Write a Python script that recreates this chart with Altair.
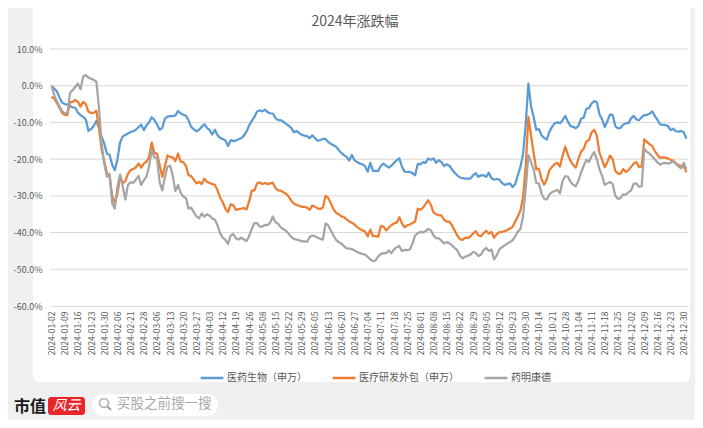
import altair as alt
import pandas as pd
from datetime import date, timedelta

# ---- trading calendar (A-share 2024) ----
HOLIDAYS = ["2024-01-01", "2024-02-09", "2024-02-12", "2024-02-13", "2024-02-14",
            "2024-02-15", "2024-02-16", "2024-04-04", "2024-04-05", "2024-05-01",
            "2024-05-02", "2024-05-03", "2024-06-10", "2024-09-16", "2024-09-17",
            "2024-10-01", "2024-10-02", "2024-10-03", "2024-10-04", "2024-10-07"]

dates = []
d = date(2024, 1, 1)
while d.year == 2024:
    s = d.isoformat()
    if d.weekday() < 5 and s not in HOLIDAYS:
        dates.append(s)
    d += timedelta(days=1)

SERIES = ["医药生物（申万）", "医疗研发外包（申万）", "药明康德"]
COLORS = ["#5B9BD5", "#ED7D31", "#A5A5A5"]

# cumulative change in %
BLUE = [
    0.0, -0.8, -1.5, -3.2, -4.6, -5.0, -5.1, -5.5, -5.9, -6.0,
    -7.3, -8.0, -8.5, -9.2, -12.3, -11.8, -11.0, -9.6, -11.5, -13.9,
    -15.8, -18.5, -18.8, -21.5, -23.0, -20.0, -15.5, -13.8, -13.4, -13.0,
    -12.6, -12.4, -12.0, -11.3, -10.6, -12.1, -10.8, -10.0, -8.6, -9.3,
    -10.5, -12.0, -11.5, -9.0, -8.4, -8.3, -8.3, -8.1, -6.9, -7.5,
    -7.9, -8.2, -9.4, -11.2, -11.9, -12.4, -12.0, -11.2, -10.5, -11.5,
    -12.1, -13.3, -12.0, -13.5, -14.2, -14.5, -14.9, -16.4, -14.8, -15.1,
    -14.9, -14.6, -14.3, -13.6, -12.5, -10.8, -9.6, -8.5, -7.0, -6.7,
    -7.0, -6.5, -7.2, -7.5, -7.6, -8.8, -9.4, -9.4, -9.8, -10.4,
    -10.9, -11.5, -12.7, -12.3, -12.9, -13.4, -13.6, -13.7, -14.3, -13.5,
    -14.3, -15.0, -14.8, -14.5, -14.5, -15.3, -15.8, -16.2, -16.6, -17.5,
    -18.3, -18.9, -19.4, -20.4, -18.9, -20.3, -20.8, -21.2, -21.4, -21.9,
    -23.4, -21.0, -23.2, -23.2, -23.2, -21.8, -21.2, -21.8, -22.3, -21.8,
    -21.0, -20.3, -19.8, -22.0, -23.4, -23.5, -23.5, -23.8, -24.4, -21.3,
    -21.4, -20.8, -21.0, -19.8, -20.2, -19.8, -21.0, -20.3, -20.8, -21.9,
    -21.4, -21.8, -22.8, -23.7, -24.4, -25.0, -25.2, -25.3, -25.3, -25.3,
    -24.4, -23.8, -24.8, -24.4, -24.4, -24.8, -23.7, -25.2, -25.6, -25.4,
    -25.6, -26.5, -27.0, -26.8, -26.6, -27.6, -26.8, -24.4, -22.1, -18.5,
    -10.5, 0.6, -5.5, -8.5, -12.0, -11.8, -13.5, -14.2, -14.7, -12.5,
    -11.2, -10.2, -10.0, -10.2, -9.4, -8.2, -9.8, -11.0, -11.2, -11.6,
    -10.9, -9.0, -8.7, -6.3, -6.1, -4.8, -4.2, -4.5, -7.8, -9.2,
    -11.3, -9.6, -7.8, -8.0, -11.0, -11.6, -11.5, -10.6, -10.2, -10.2,
    -8.9, -8.2, -9.2, -9.4, -8.6, -8.0, -8.0, -7.6, -7.0, -8.2,
    -9.3, -10.5, -10.7, -10.7, -11.0, -12.1, -11.7, -12.4, -12.5, -12.3,
    -12.7, -14.4,
]

ORANGE = [
    -3.0, -3.5, -4.7, -6.0, -7.4, -7.9, -8.0, -4.5, -4.4, -3.9,
    -4.4, -5.7, -4.4, -5.0, -7.1, -7.4, -7.4, -6.8, -11.5, -17.5,
    -20.5, -23.8, -24.5, -30.0, -32.0, -29.4, -24.8, -26.5, -26.0, -24.0,
    -23.0, -22.7, -22.2, -21.2, -22.3, -21.2, -20.7, -19.5, -15.5, -18.3,
    -18.5, -21.5, -24.8, -22.0, -19.0, -19.4, -19.5, -20.5, -18.5, -20.7,
    -20.8, -21.8, -24.4, -24.6, -25.6, -26.6, -26.2, -26.8, -25.3, -26.2,
    -26.5, -26.8, -27.0, -28.5, -30.5, -31.8, -33.5, -34.4, -32.3, -32.6,
    -33.8, -33.6, -33.5, -33.3, -33.7, -31.5, -28.6, -28.5, -26.6, -26.3,
    -26.8, -26.5, -26.8, -26.6, -26.4, -27.9, -28.5, -28.6, -29.0, -29.4,
    -30.2, -31.3, -32.1, -32.5, -32.7, -33.0, -33.0, -33.2, -33.8, -32.6,
    -33.0, -33.4, -33.6, -33.2, -30.0, -30.5, -32.0, -33.6, -34.6, -35.0,
    -35.6, -35.8, -36.4, -37.0, -37.3, -37.8, -38.5, -39.0, -39.4, -39.7,
    -41.0, -39.2, -41.0, -41.0, -41.1, -38.2, -38.4, -39.4, -38.7, -38.0,
    -37.5, -37.3, -35.8, -37.5, -38.6, -38.0, -37.8, -37.4, -37.0, -33.5,
    -33.8, -33.2, -32.2, -31.2, -32.5, -34.5, -35.0, -35.3, -35.3, -36.5,
    -37.0, -37.0, -38.0, -39.4, -40.8, -41.8, -42.0, -41.4, -41.5, -41.0,
    -40.3, -39.6, -40.8, -41.0, -40.2, -39.5, -40.3, -39.8, -41.4, -40.4,
    -39.9, -39.8, -39.6, -39.3, -38.9, -38.5, -37.0, -35.6, -34.0, -30.3,
    -22.0, -8.5, -13.5, -18.3, -22.8, -22.6, -25.5, -27.0, -25.5, -23.0,
    -22.1, -21.3, -21.0, -22.0, -19.0, -16.6, -18.8, -20.5, -21.6, -22.3,
    -19.9, -18.0, -17.2, -15.2, -14.8, -12.7, -12.0, -13.6, -18.3, -20.2,
    -22.2, -20.8, -19.0, -20.0, -23.2, -23.9, -24.0, -22.7, -23.5, -23.0,
    -22.1, -21.2, -20.8, -22.1, -22.0, -14.6, -15.3, -15.9, -16.4, -17.8,
    -18.8, -19.7, -19.5, -19.6, -19.8, -20.2, -20.4, -21.2, -21.6, -21.9,
    -21.9, -23.6,
]

GRAY = [
    0.0, -2.5, -4.2, -5.6, -6.9, -7.5, -7.4, -2.0, -1.2, -0.3,
    0.6, -1.0, 2.5, 2.9, 2.2, 1.9, 1.6, 1.1, -6.0, -15.7,
    -21.2, -24.8, -24.0, -32.0, -33.5, -27.5, -24.2, -27.3, -31.0, -27.0,
    -26.3, -26.4, -25.6, -24.6, -27.0, -25.8, -24.8, -22.0, -17.5, -19.6,
    -19.6, -26.2, -28.5, -25.0, -22.0, -21.8, -24.5, -28.7, -27.0, -29.2,
    -30.2, -30.6, -33.5, -33.2, -34.5, -35.6, -36.1, -34.8, -35.7, -35.0,
    -35.4, -36.2, -36.5, -38.0, -40.2, -41.4, -42.0, -43.1, -40.8, -40.4,
    -41.6, -41.9, -41.4, -41.9, -42.3, -41.0, -39.0, -37.4, -37.4, -38.4,
    -38.4, -37.9, -38.0, -37.3, -35.6, -37.2, -37.6, -38.6, -39.1, -39.5,
    -40.3, -41.2, -41.7, -41.9, -42.1, -42.4, -42.4, -42.5, -41.2, -40.8,
    -41.0, -41.4, -41.7, -41.9, -37.5, -38.0, -39.4, -40.8, -42.0, -42.6,
    -43.0, -43.7, -44.3, -44.4, -44.5, -44.9, -45.3, -45.6, -45.8, -46.0,
    -46.6, -47.3, -47.8, -47.6, -46.5, -45.8, -45.6, -45.6, -44.9, -45.6,
    -44.6, -44.0, -43.7, -45.0, -44.7, -44.8, -44.6, -43.0, -40.8, -40.2,
    -39.8, -40.0, -39.6, -39.0, -39.4, -40.8, -41.5, -41.6, -42.2, -43.0,
    -42.6, -42.9, -43.5, -44.2, -44.8, -46.3, -47.0, -46.6, -46.3, -46.0,
    -45.3, -45.5, -46.4, -46.0, -44.8, -44.2, -45.0, -44.6, -47.3, -46.2,
    -44.5, -44.0, -43.5, -43.0, -42.6, -42.1, -41.0, -39.8, -39.0, -35.5,
    -28.0, -18.9, -20.8, -22.8, -26.5, -26.6, -29.4, -30.8, -31.0, -29.6,
    -29.0, -28.7, -28.4, -29.3, -25.9, -24.6, -24.8, -26.2, -27.0, -27.4,
    -25.9, -23.6, -21.8, -20.2, -20.8, -19.2, -18.1, -20.0, -22.8, -24.6,
    -27.0, -26.6, -26.2, -26.8, -30.0, -30.8, -30.6, -29.6, -29.7, -29.0,
    -28.5, -26.7, -26.6, -27.5, -27.4, -17.2, -18.0, -18.5, -19.2, -20.0,
    -20.9, -21.5, -21.1, -21.0, -21.2, -21.0, -20.6, -21.3, -22.0, -22.5,
    -21.0, -22.7,
]

Y_TICKS = [-60, -50, -40, -30, -20, -10, 0, 10]
TITLE = "2024年涨跌幅"

rows = []
for name, vals in zip(SERIES, [BLUE, ORANGE, GRAY]):
    for dt, v in zip(dates, vals):
        rows.append({"date": dt, "series": name, "value": v})
df = pd.DataFrame(rows)
grid_df = pd.DataFrame({"value": Y_TICKS[1:]})

FONT = "Noto Sans CJK SC"
W, H = 638, 257
one = pd.DataFrame([{"k": 1}])

yscale = alt.Scale(domain=[-60, 10], nice=False, zero=False)
yaxis = alt.Axis(values=Y_TICKS, labelFontSize=9, labelColor="#595959",
                 labelFont=FONT, ticks=False, domain=False, grid=False,
                 labelPadding=8, title=None, zindex=1,
                 labelExpr="replace(format(datum.value, '.1f'), '\u2212', '-') + '%'")

card = alt.Chart(one).mark_rect(color="white", cornerRadius=6).encode(
    x=alt.value(-17), x2=alt.value(640), y=alt.value(-60), y2=alt.value(333)
)

grid = alt.Chart(grid_df).mark_rule(color="#d9d9d9", strokeWidth=1).encode(
    y=alt.Y("value:Q", scale=yscale, axis=yaxis),
    x=alt.value(0), x2=alt.value(W),
)

lines = alt.Chart(df).mark_line(strokeWidth=2.25, strokeJoin="round").encode(
    x=alt.X("date:O",
            scale=alt.Scale(type="point", domain=dates, padding=0.6),
            axis=alt.Axis(values=dates[::5], labelAngle=270, labelFontSize=8.5,
                          labelColor="#595959", labelFont=FONT, ticks=False,
                          labelPadding=5, labelOverlap=False, labelFlush=False,
                          domainColor="#d9d9d9", grid=False, title=None,
                          zindex=1)),
    y=alt.Y("value:Q", scale=yscale, axis=yaxis),
    color=alt.Color("series:N",
                    scale=alt.Scale(domain=SERIES, range=COLORS),
                    legend=alt.Legend(orient="none", legendX=149, legendY=316,
                                      direction="horizontal", title=None,
                                      symbolType="stroke", symbolStrokeWidth=2.5,
                                      symbolSize=520, labelFontSize=10,
                                      labelColor="#595959", labelFont=FONT,
                                      columnPadding=20, labelOffset=2)),
    order=alt.Order("date:O"),
)

title = alt.Chart(one).mark_text(text=TITLE, fontSize=14, color="#595959",
                                 font=FONT, align="center", baseline="middle").encode(
    x=alt.value(305), y=alt.value(-27))

logo1 = alt.Chart(one).mark_text(text="市值", fontSize=16, fontWeight="bold",
                                 color="#1a1a1a", font=FONT, align="left",
                                 baseline="middle").encode(
    x=alt.value(-36), y=alt.value(358))
logo_box = alt.Chart(one).mark_rect(color="#e8262a", cornerRadius=3).encode(
    x=alt.value(-2), x2=alt.value(35), y=alt.value(348), y2=alt.value(366))
logo2 = alt.Chart(one).mark_text(text="风云", fontSize=14, fontStyle="italic",
                                 color="white", font=FONT, align="center",
                                 baseline="middle").encode(
    x=alt.value(16.5), y=alt.value(357))
pill = alt.Chart(one).mark_rect(color="white", cornerRadius=11).encode(
    x=alt.value(42), x2=alt.value(168), y=alt.value(345), y2=alt.value(367))
lens = alt.Chart(one).mark_point(shape="circle", filled=False, size=80,
                                 strokeWidth=1.8, color="#9a9a9a").encode(
    x=alt.value(54), y=alt.value(354))
handle = alt.Chart(one).mark_rule(strokeWidth=1.8, color="#9a9a9a").encode(
    x=alt.value(57.5), x2=alt.value(61), y=alt.value(357.5), y2=alt.value(361))
search = alt.Chart(one).mark_text(text="买股之前搜一搜", fontSize=13.5,
                                  color="#a8a8a8", font=FONT, align="left",
                                  baseline="middle").encode(
    x=alt.value(67), y=alt.value(355))

chart = alt.layer(card, grid, lines, title, logo1, logo_box, logo2, pill, lens,
                  handle, search).properties(
    width=W, height=H,
    padding={"left": 42, "top": 41, "right": 7, "bottom": 114},
    autosize=alt.AutoSizeParams(type="none"),
    background="#f0f0f0",
).configure_view(stroke=None)

chart.save("out.html", embed_options={"renderer": "svg", "actions": False})
